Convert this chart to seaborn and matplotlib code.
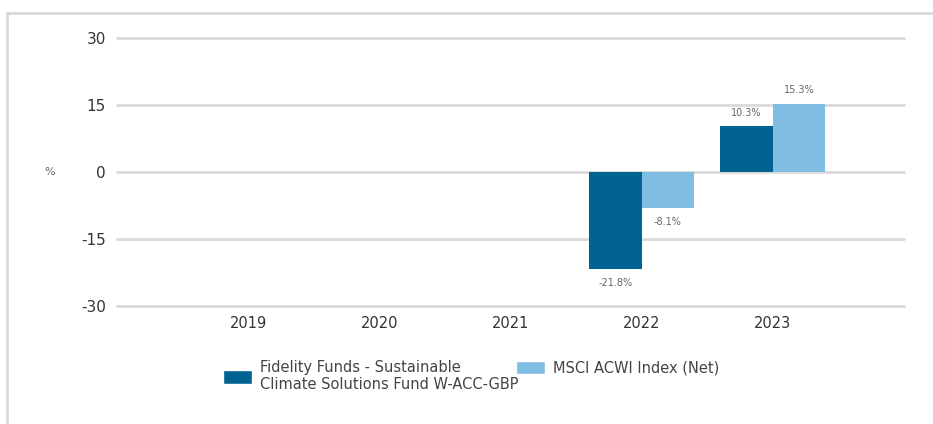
import numpy as np
import pandas as pd
import matplotlib
matplotlib.use("Agg")
import matplotlib.pyplot as plt
from matplotlib.lines import Line2D
from matplotlib.patches import Patch
import seaborn as sns

# -------------------- DATA --------------------
years = ["2019", "2020", "2021", "2022", "2023"]
fund_returns = [np.nan, np.nan, np.nan, -21.8, 10.3]
index_returns = [np.nan, np.nan, np.nan, -8.1, 15.3]
series_names = ["Fidelity Funds - Sustainable\nClimate Solutions Fund W-ACC-GBP",
                "MSCI ACWI Index (Net)"]
y_ticks = [-30, -15, 0, 15, 30]

DARK = "#006391"
LIGHT = "#80bde3"
GRID = "#d9d9d9"


def build_frame():
    df = pd.DataFrame({
        "year": years * 2,
        "value": fund_returns + index_returns,
        "series": [series_names[0]] * len(years) + [series_names[1]] * len(years),
    })
    return df


# -------------------- PLOT --------------------
def plot_performance(df):
    sns.set_style("white")
    plt.rcParams["font.family"] = ["DejaVu Sans"]
    plt.rcParams["axes.unicode_minus"] = False

    fig = plt.figure(figsize=(9.33, 4.24), dpi=100)
    ax = fig.add_axes([117 / 933, 1 - 306 / 424, 787 / 933, 268 / 424])

    sns.barplot(data=df, x="year", y="value", hue="series", order=years,
                hue_order=series_names, palette=[DARK, LIGHT], width=0.8,
                saturation=1, errorbar=None, legend=False, linewidth=0, ax=ax)

    for cont in ax.containers:
        labels = []
        for p in cont:
            h = p.get_height()
            labels.append("" if np.isnan(h) else f"{h:.1f}%")
        ax.bar_label(cont, labels=labels, padding=6, fontsize=7, color="#666666")

    ax.set_xlim(-1, 5)
    ax.set_ylim(-30, 30)
    ax.set_yticks(y_ticks)
    ax.yaxis.grid(True, color=GRID, linewidth=2)
    for gl in ax.get_ygridlines():
        gl.set_clip_on(False)
    ax.set_axisbelow(True)
    for s in ax.spines.values():
        s.set_visible(False)
    ax.tick_params(axis="y", length=0, pad=8, labelsize=11, labelcolor="#333333")
    ax.tick_params(axis="x", length=0, pad=7, labelsize=10.5, labelcolor="#333333")
    ax.set_xlabel("")
    ax.set_ylabel("")
    fig.text(50 / 933, 1 - 172 / 424, "%", fontsize=8, color="#666666",
             ha="center", va="center")

    # legend, one box per series
    fig.legend(handles=[Patch(facecolor=DARK, label=series_names[0])],
               loc="center left", bbox_to_anchor=(210 / 933, 1 - 376 / 424),
               frameon=False, fontsize=10.5, handlelength=2.0, handleheight=1.0,
               handletextpad=0.5, labelcolor="#444444")
    fig.legend(handles=[Patch(facecolor=LIGHT, label=series_names[1])],
               loc="center left", bbox_to_anchor=(503 / 933, 1 - 368 / 424),
               frameon=False, fontsize=10.5, handlelength=2.0, handleheight=1.0,
               handletextpad=0.5, labelcolor="#444444")

    # panel frame
    fig.add_artist(Line2D([7 / 933, 1], [1 - 13 / 424, 1 - 13 / 424],
                          color=GRID, linewidth=2, transform=fig.transFigure))
    fig.add_artist(Line2D([7 / 933, 7 / 933], [0, 1 - 13 / 424],
                          color=GRID, linewidth=2, transform=fig.transFigure))

    fig.savefig("out.png", dpi=100)


# -------------------- MAIN --------------------
def main():
    df = build_frame()
    plot_performance(df)


if __name__ == "__main__":
    main()
